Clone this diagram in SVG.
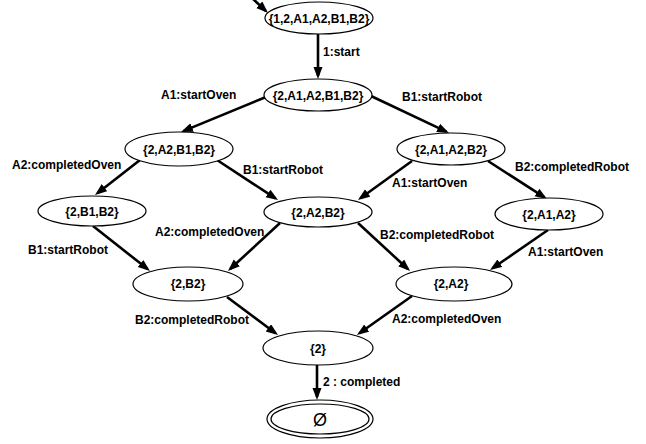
<svg xmlns="http://www.w3.org/2000/svg" width="646" height="444" viewBox="0 0 646 444">
<defs>
<marker id="ah" markerWidth="12" markerHeight="10" refX="9" refY="4.5" orient="auto" markerUnits="userSpaceOnUse"><path d="M0,0 L12,4.5 L0,9 z" fill="#000"/></marker>
<style>
.n ellipse{fill:#fff;stroke:#000;stroke-width:1.2}
.n text{font-family:"Liberation Sans",Arial,sans-serif;font-weight:bold;font-size:12px;text-anchor:middle;fill:#000}
.e line{stroke:#000;stroke-width:2.6;marker-end:url(#ah)}
.l{font-family:"Liberation Sans",Arial,sans-serif;font-weight:bold;font-size:12px;fill:#000}
</style>
</defs>
<rect width="646" height="444" fill="#fff"/>
<g id="connectors" class="e">
<line x1="252" y1="-2" x2="265.8" y2="10.9"/>
<line x1="318" y1="34" x2="318" y2="76"/>
<line x1="266" y1="97" x2="183.8" y2="130.9"/>
<line x1="371" y1="96" x2="446.3" y2="131.7"/>
<line x1="140" y1="160" x2="97.4" y2="193.2"/>
<line x1="217" y1="160" x2="275.5" y2="198.4"/>
<line x1="412" y1="161" x2="360.4" y2="198.2"/>
<line x1="488" y1="161" x2="544.5" y2="197.4"/>
<line x1="93" y1="226" x2="147.6" y2="269.1"/>
<line x1="280" y1="223" x2="230.2" y2="269"/>
<line x1="358" y1="223" x2="407.8" y2="269"/>
<line x1="548" y1="230" x2="492.5" y2="268.3"/>
<line x1="227" y1="297" x2="275.6" y2="333.2"/>
<line x1="412" y1="296" x2="359.4" y2="333.3"/>
<line x1="317" y1="365" x2="317" y2="397"/>
</g>
<g id="edge-labels">
<text class="l" x="323" y="56">1:start</text>
<text class="l" x="161" y="99">A1:startOven</text>
<text class="l" x="402" y="101">B1:startRobot</text>
<text class="l" x="12" y="169">A2:completedOven</text>
<text class="l" x="243" y="174">B1:startRobot</text>
<text class="l" x="392" y="187">A1:startOven</text>
<text class="l" x="515" y="171">B2:completedRobot</text>
<text class="l" x="28" y="254">B1:startRobot</text>
<text class="l" x="155" y="236">A2:completedOven</text>
<text class="l" x="380" y="239">B2:completedRobot</text>
<text class="l" x="528" y="256">A1:startOven</text>
<text class="l" x="135" y="324">B2:completedRobot</text>
<text class="l" x="392" y="323">A2:completedOven</text>
<text class="l" x="323" y="386">2 : completed</text>
</g>
<g id="n1" class="n"><ellipse cx="319" cy="18" rx="54" ry="16"/><text x="319" y="23">{1,2,A1,A2,B1,B2}</text></g>
<g id="n2" class="n"><ellipse cx="318" cy="95" rx="54" ry="16"/><text x="318" y="99.5">{2,A1,A2,B1,B2}</text></g>
<g id="n3" class="n"><ellipse cx="179" cy="149" rx="54" ry="17"/><text x="179" y="153.5">{2,A2,B1,B2}</text></g>
<g id="n4" class="n"><ellipse cx="451" cy="149" rx="54" ry="16"/><text x="451" y="153.5">{2,A1,A2,B2}</text></g>
<g id="n5" class="n"><ellipse cx="92" cy="211" rx="54" ry="15"/><text x="92" y="215.5">{2,B1,B2}</text></g>
<g id="n6" class="n"><ellipse cx="318" cy="212" rx="54" ry="15"/><text x="318" y="216.5">{2,A2,B2}</text></g>
<g id="n7" class="n"><ellipse cx="549" cy="214" rx="54" ry="16"/><text x="549" y="218.5">{2,A1,A2}</text></g>
<g id="n8" class="n"><ellipse cx="188" cy="284" rx="55" ry="17"/><text x="188" y="288">{2,B2}</text></g>
<g id="n9" class="n"><ellipse cx="454" cy="284" rx="58" ry="17"/><text x="451" y="288">{2,A2}</text></g>
<g id="n10" class="n"><ellipse cx="318" cy="348" rx="55" ry="17"/><text x="318" y="353">{2}</text></g>
<g id="n11" class="n"><ellipse cx="320" cy="419" rx="53" ry="19"/><ellipse cx="320" cy="419" rx="49" ry="15"/><text x="320" y="426" style="font-size:18px;font-weight:normal">Ø</text></g>
</svg>
